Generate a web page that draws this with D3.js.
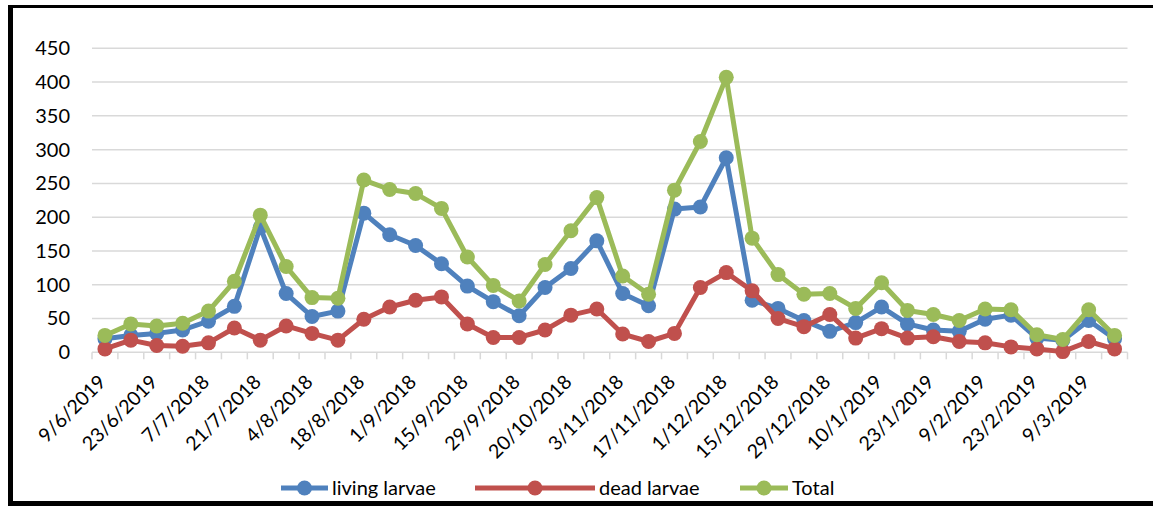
<!DOCTYPE html>
<html>
<head>
<meta charset="utf-8">
<script src="https://cdn.jsdelivr.net/npm/d3@7"></script>
<style>
  html, body { margin: 0; padding: 0; background: #fff; }
  svg { display: block; }
  text { font-family: Lato, "Open Sans", sans-serif; fill: #000; }
</style>
</head>
<body>
<svg id="chart" width="1153" height="507"></svg>
<script>
// Sampling dates (every other one is labelled on the axis)
const dates = [
  "9/6/2019", "16/6/2019", "23/6/2019", "30/6/2019", "7/7/2018", "14/7/2018",
  "21/7/2018", "28/7/2018", "4/8/2018", "11/8/2018", "18/8/2018", "25/8/2018",
  "1/9/2018", "8/9/2018", "15/9/2018", "22/9/2018", "29/9/2018", "6/10/2018",
  "20/10/2018", "27/10/2018", "3/11/2018", "10/11/2018", "17/11/2018", "24/11/2018",
  "1/12/2018", "8/12/2018", "15/12/2018", "22/12/2018", "29/12/2018", "3/1/2019",
  "10/1/2019", "16/1/2019", "23/1/2019", "2/2/2019", "9/2/2019", "16/2/2019",
  "23/2/2019", "2/3/2019", "9/3/2019", "16/3/2019"
];

const livingLarvae = [
  20, 25, 28, 33, 46, 68, 185, 87, 53, 61,
  206, 174, 158, 131, 98, 75, 54, 96, 124, 165,
  87, 69, 212, 215, 288, 77, 65, 47, 31, 44,
  67, 42, 33, 31, 49, 55, 21, 18, 47, 20
];

const deadLarvae = [
  5, 18, 10, 9, 14, 36, 18, 39, 28, 18,
  49, 67, 77, 82, 42, 22, 22, 33, 55, 64,
  27, 16, 28, 96, 118, 91, 50, 38, 56, 21,
  35, 21, 23, 16, 14, 8, 5, 1, 16, 5
];

const totalLarvae = [
  25, 42, 39, 43, 61, 105, 203, 127, 81, 80,
  255, 241, 235, 213, 141, 99, 76, 130, 180, 229,
  113, 86, 240, 312, 407, 169, 115, 86, 87, 65,
  103, 62, 56, 47, 64, 63, 26, 19, 63, 25
];

const yTicks = [0, 50, 100, 150, 200, 250, 300, 350, 400, 450];

const seriesNames = ["living larvae", "dead larvae", "Total"];
const seriesColors = ["#4F81BD", "#C0504D", "#9BBB59"];

const series = [livingLarvae, deadLarvae, totalLarvae].map((values, i) => ({
  name: seriesNames[i],
  color: seriesColors[i],
  values: values
}));

const svg = d3.select("#chart");

// Frame around the chart object
svg.append("line").attr("x1", 8).attr("x2", 1153).attr("y1", 6.5).attr("y2", 6.5)
  .attr("stroke", "#000").attr("stroke-width", 3);
svg.append("line").attr("x1", 10.5).attr("x2", 10.5).attr("y1", 5).attr("y2", 506)
  .attr("stroke", "#000").attr("stroke-width", 5);
svg.append("line").attr("x1", 8).attr("x2", 1153).attr("y1", 503.5).attr("y2", 503.5)
  .attr("stroke", "#000").attr("stroke-width", 5);

const plot = { left: 92, right: 1127.5, top: 48.3, bottom: 352.3 };

const x = d3.scaleBand()
  .domain(dates)
  .range([plot.left, plot.right])
  .paddingInner(0).paddingOuter(0);

const y = d3.scaleLinear()
  .domain([0, 450])
  .range([plot.bottom, plot.top]);

// Horizontal gridlines
svg.append("g")
  .selectAll("line")
  .data(yTicks.filter(d => d > 0))
  .join("line")
  .attr("x1", plot.left).attr("x2", plot.right)
  .attr("y1", d => y(d)).attr("y2", d => y(d))
  .attr("stroke", "#D9D9D9").attr("stroke-width", 1.5);

// Y axis labels
const yAxis = d3.axisLeft(y).tickValues(yTicks).tickSize(0).tickPadding(0);
const yg = svg.append("g").attr("transform", `translate(${plot.left - 22},0)`).call(yAxis);
yg.select(".domain").remove();
yg.selectAll("text")
  .attr("font-size", 20)
  .attr("font-family", "Lato, 'Open Sans', sans-serif")
  .attr("fill", "#000");

// X axis with tick marks at category boundaries
svg.append("line")
  .attr("x1", plot.left).attr("x2", plot.right)
  .attr("y1", plot.bottom).attr("y2", plot.bottom)
  .attr("stroke", "#D9D9D9").attr("stroke-width", 1.5);

const boundaries = dates.map(d => x(d)).concat([x(dates[dates.length - 1]) + x.bandwidth()]);
svg.append("g")
  .selectAll("line")
  .data(boundaries)
  .join("line")
  .attr("x1", d => d).attr("x2", d => d)
  .attr("y1", plot.bottom).attr("y2", plot.bottom + 7)
  .attr("stroke", "#D9D9D9").attr("stroke-width", 1.5);

const labelled = dates.filter((d, i) => i % 2 === 0);
svg.append("g")
  .selectAll("text")
  .data(labelled)
  .join("text")
  .attr("transform", d => `translate(${x(d) + x.bandwidth() / 2 + 2},${plot.bottom + 31}) rotate(-45)`)
  .attr("text-anchor", "end")
  .attr("font-size", 19.5)
  .text(d => d);

// Series lines and markers
const line = d3.line()
  .x((d, i) => x(dates[i]) + x.bandwidth() / 2)
  .y(d => y(d));

series.forEach(s => {
  const g = svg.append("g");
  g.append("path")
    .datum(s.values)
    .attr("d", line)
    .attr("fill", "none")
    .attr("stroke", s.color)
    .attr("stroke-width", 5)
    .attr("stroke-linejoin", "round");
  g.selectAll("circle")
    .data(s.values)
    .join("circle")
    .attr("cx", (d, i) => x(dates[i]) + x.bandwidth() / 2)
    .attr("cy", d => y(d))
    .attr("r", 7.5)
    .attr("fill", s.color);
});

// Legend
const legendItems = [
  { x0: 281, x1: 328, tx: 332 },
  { x0: 475, x1: 595, tx: 599 },
  { x0: 740, x1: 788, tx: 792 }
];
const lg = svg.append("g");
series.forEach((s, i) => {
  const p = legendItems[i];
  lg.append("line")
    .attr("x1", p.x0).attr("x2", p.x1).attr("y1", 488).attr("y2", 488)
    .attr("stroke", s.color).attr("stroke-width", 5);
  lg.append("circle")
    .attr("cx", (p.x0 + p.x1) / 2).attr("cy", 488).attr("r", 7.5)
    .attr("fill", s.color);
  lg.append("text")
    .attr("x", p.tx).attr("y", 488).attr("dy", "0.35em")
    .attr("font-size", 20)
    .text(s.name);
});
</script>
</body>
</html>
